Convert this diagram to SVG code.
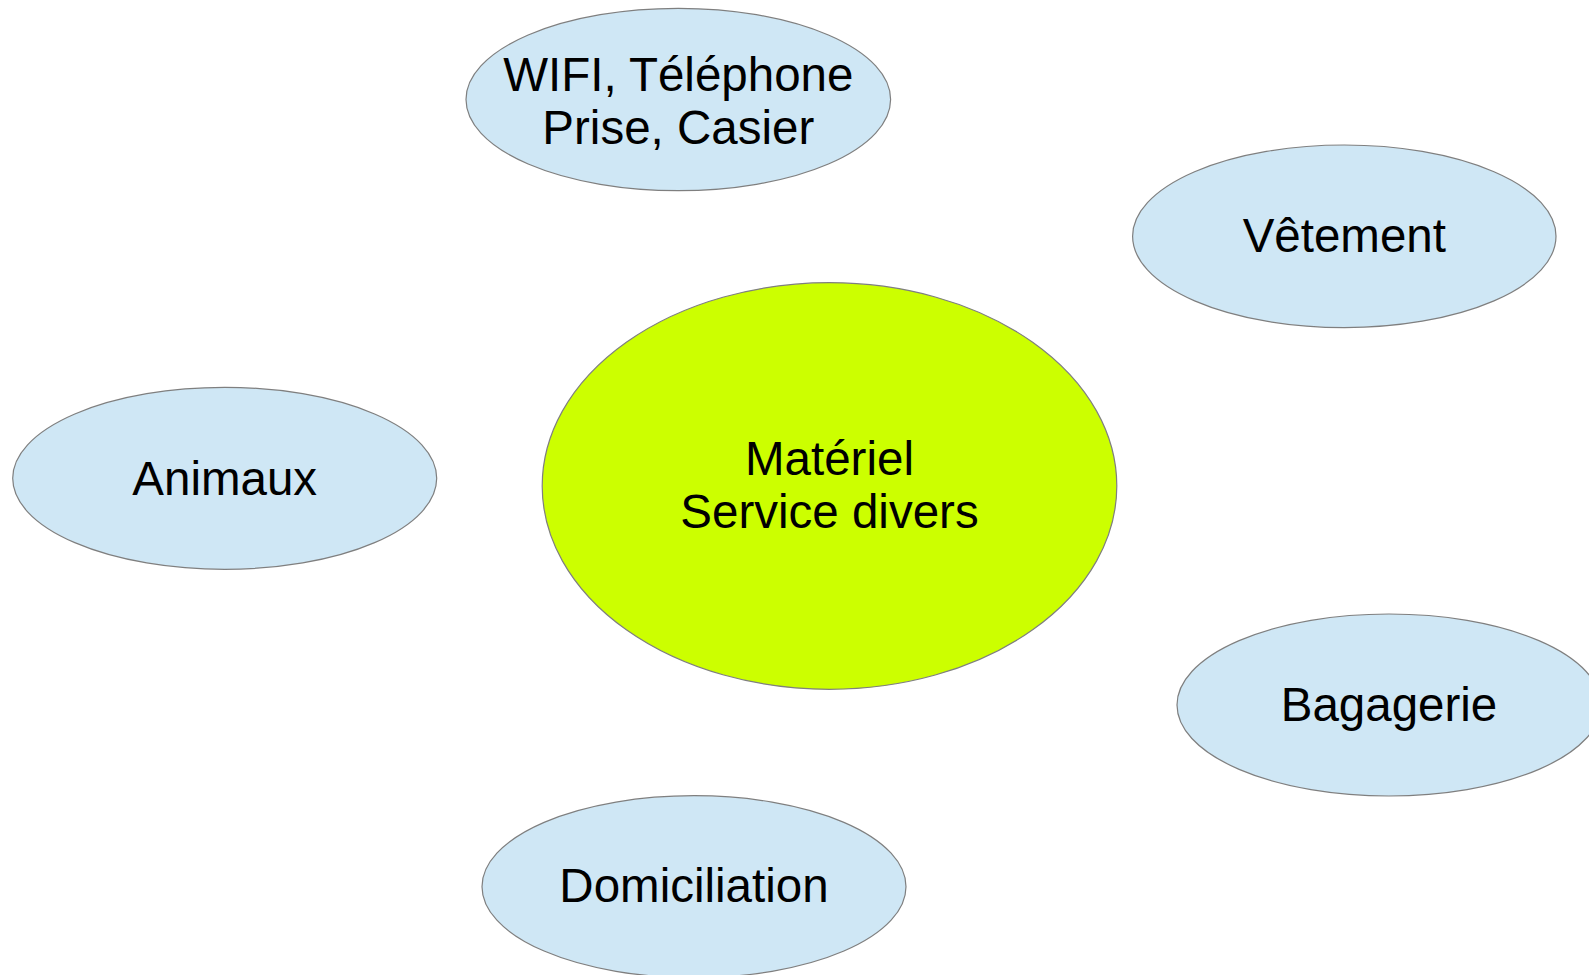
<svg xmlns="http://www.w3.org/2000/svg" width="1589" height="975" viewBox="0 0 1589 975">
<style>
.bg{fill:#ffffff}
.leaf{fill:#cfe7f5;stroke:#7f7f7f;stroke-width:1.2}
.hub{fill:#ccff00;stroke:#7f7f7f;stroke-width:1.2}
.lbl{font-family:"Liberation Sans",Arial,sans-serif;font-size:47.5px;fill:#000000;text-anchor:middle}
</style>
<rect class="bg" x="0" y="0" width="1589" height="975"/>
<g id="connectors"></g>
<g id="node-wifi">
<ellipse class="leaf" cx="678.3" cy="99.5" rx="212.3" ry="91.2"/>
<text class="lbl" x="678.3" y="91">WIFI, Téléphone</text>
<text class="lbl" x="678.3" y="143.5">Prise, Casier</text>
</g>
<g id="node-vetement">
<ellipse class="leaf" cx="1344.3" cy="236.3" rx="211.7" ry="91.3"/>
<text class="lbl" x="1344.3" y="252.3">Vêtement</text>
</g>
<g id="node-animaux">
<ellipse class="leaf" cx="224.7" cy="478.3" rx="212" ry="91"/>
<text class="lbl" x="224.7" y="495">Animaux</text>
</g>
<g id="node-centre">
<ellipse class="hub" cx="829.5" cy="486" rx="287.3" ry="203.3"/>
<text class="lbl" x="829.5" y="475">Matériel</text>
<text class="lbl" x="829.5" y="528.3">Service divers</text>
</g>
<g id="node-bagagerie">
<ellipse class="leaf" cx="1389" cy="705" rx="212" ry="91"/>
<text class="lbl" x="1389" y="720.7">Bagagerie</text>
</g>
<g id="node-domiciliation">
<ellipse class="leaf" cx="694" cy="886.7" rx="212" ry="91"/>
<text class="lbl" x="694" y="902.3">Domiciliation</text>
</g>
</svg>
